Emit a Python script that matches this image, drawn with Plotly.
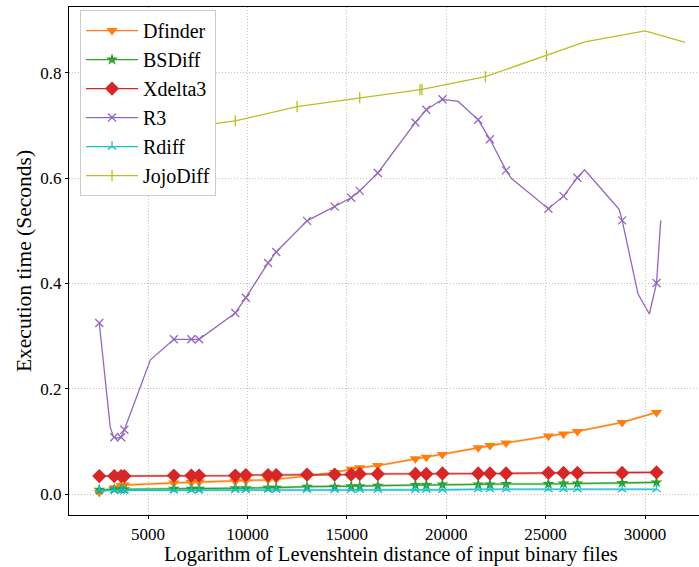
import plotly.graph_objects as go

# ---------------- data ----------------
x_pts = [2550, 3300, 3650, 3810, 6300, 7180, 7570, 9390, 9920, 11040, 11450,
         13000, 14390, 15220, 15650, 16560, 18450, 19000, 19810, 21610, 22200,
         23010, 25140, 25900, 26600, 28850, 30580]

dfinder = [0.003, 0.012, 0.016, 0.017, 0.021, 0.022, 0.023, 0.024, 0.025, 0.027, 0.028,
           0.034, 0.041, 0.047, 0.050, 0.054, 0.067, 0.070, 0.075, 0.088, 0.092,
           0.097, 0.110, 0.114, 0.119, 0.136, 0.155]

bsdiff = [0.008, 0.009, 0.009, 0.009, 0.010, 0.010, 0.010, 0.011, 0.011, 0.012, 0.012,
          0.014, 0.014, 0.015, 0.015, 0.016, 0.017, 0.017, 0.018, 0.018, 0.018,
          0.019, 0.019, 0.020, 0.020, 0.021, 0.022]

xdelta3 = [0.034, 0.034, 0.034, 0.034, 0.035, 0.035, 0.035, 0.035, 0.036, 0.036, 0.036,
           0.037, 0.037, 0.037, 0.038, 0.038, 0.038, 0.038, 0.039, 0.039, 0.039,
           0.039, 0.040, 0.040, 0.040, 0.040, 0.041]

rdiff = [0.007, 0.007, 0.007, 0.007, 0.007, 0.007, 0.007, 0.008, 0.008, 0.008, 0.008,
         0.008, 0.008, 0.008, 0.008, 0.008, 0.008, 0.008, 0.008, 0.009, 0.009,
         0.009, 0.009, 0.009, 0.009, 0.009, 0.009]

r3 = [0.325, 0.108, 0.108, 0.122, 0.294, 0.294, 0.294, 0.344, 0.373, 0.439, 0.460,
      0.519, 0.546, 0.563, 0.576, 0.610, 0.706, 0.730, 0.750, 0.711, 0.674,
      0.615, 0.542, 0.566, 0.601, 0.520, 0.401]

r3_curve_x = [2550, 3100, 3250, 3400, 3650, 3810, 5120, 6300, 7180, 7570, 9390, 9920,
              11040, 11450, 13000, 14390, 15220, 15650, 16560, 18450, 19000, 19810,
              20600, 21610, 22200, 23010, 23270, 25140, 25900, 26600, 26960, 28700,
              28850, 29650, 30100, 30220, 30580, 30790]
r3_curve_y = [0.325, 0.127, 0.110, 0.106, 0.108, 0.122, 0.255, 0.294, 0.294, 0.294, 0.344, 0.373,
              0.439, 0.460, 0.519, 0.546, 0.563, 0.576, 0.610, 0.706, 0.730, 0.750,
              0.746, 0.711, 0.674, 0.615, 0.600, 0.542, 0.566, 0.601, 0.616, 0.541,
              0.520, 0.380, 0.350, 0.342, 0.401, 0.520]

jojo_x = [9390, 12500, 15650, 18680, 18780, 21970, 25050]
jojo_y = [0.709, 0.736, 0.753, 0.768, 0.769, 0.793, 0.833]
jojo_curve_x = [7570, 9390, 12500, 15650, 18680, 18780, 21970, 25050, 26970, 30000, 32020]
jojo_curve_y = [0.700, 0.709, 0.736, 0.753, 0.768, 0.769, 0.793, 0.833, 0.859, 0.880, 0.858]

x_ticks = [5000, 10000, 15000, 20000, 25000, 30000]
y_ticks = [0.0, 0.2, 0.4, 0.6, 0.8]

x_title = "Logarithm of Levenshtein distance of input binary files"
y_title = "Execution time (Seconds)"

# ---------------- styles ----------------
FONT = "Liberation Serif"
C = {"Dfinder": "#ff7f0e", "BSDiff": "#2ca02c", "Xdelta3": "#d62728",
     "R3": "#9467bd", "Rdiff": "#17becf", "JojoDiff": "#bcbd22"}

fig = go.Figure()


def light_line(x, y, color):
    fig.add_trace(go.Scatter(x=x, y=y, mode="lines", opacity=0.4,
                             line=dict(color=color, width=2.4),
                             showlegend=False, hoverinfo="skip"))


def legend_dummy(name, color, marker, rank):
    fig.add_trace(go.Scatter(x=[None], y=[None], mode="lines+markers", name=name,
                             line=dict(color=color, width=1.3), marker=marker,
                             legendrank=rank))


# Dfinder
light_line(x_pts, dfinder, C["Dfinder"])
fig.add_trace(go.Scatter(x=x_pts, y=dfinder, mode="lines+markers", name="Dfinder",
                         line=dict(color=C["Dfinder"], width=1.2),
                         marker=dict(symbol="triangle-down", size=10, color=C["Dfinder"]),
                         legendrank=1))
# BSDiff
light_line(x_pts, bsdiff, C["BSDiff"])
fig.add_trace(go.Scatter(x=x_pts, y=bsdiff, mode="lines+markers", name="BSDiff",
                         line=dict(color=C["BSDiff"], width=1.2),
                         marker=dict(symbol="star", size=9, color=C["BSDiff"]),
                         legendrank=2))
# Xdelta3
light_line(x_pts, xdelta3, C["Xdelta3"])
fig.add_trace(go.Scatter(x=x_pts, y=xdelta3, mode="lines+markers", name="Xdelta3",
                         line=dict(color=C["Xdelta3"], width=1.2),
                         marker=dict(symbol="diamond", size=11, color=C["Xdelta3"]),
                         legendrank=3))
# R3
r3_marker = dict(symbol="x-thin", size=8, color=C["R3"],
                 line=dict(color=C["R3"], width=1.3))
fig.add_trace(go.Scatter(x=r3_curve_x, y=r3_curve_y, mode="lines",
                         line=dict(color=C["R3"], width=1.3),
                         showlegend=False, hoverinfo="skip"))
fig.add_trace(go.Scatter(x=x_pts, y=r3, mode="markers", marker=r3_marker,
                         showlegend=False))
legend_dummy("R3", C["R3"], r3_marker, 4)
# Rdiff
light_line(x_pts, rdiff, C["Rdiff"])
fig.add_trace(go.Scatter(x=x_pts, y=rdiff, mode="lines+markers", name="Rdiff",
                         line=dict(color=C["Rdiff"], width=1.2),
                         marker=dict(symbol="y-up", size=7, color=C["Rdiff"],
                                     line=dict(color=C["Rdiff"], width=1.3)),
                         legendrank=5))
# JojoDiff
jojo_marker = dict(symbol="line-ns", size=8, color=C["JojoDiff"],
                   line=dict(color=C["JojoDiff"], width=1.3))
fig.add_trace(go.Scatter(x=jojo_curve_x, y=jojo_curve_y, mode="lines",
                         line=dict(color=C["JojoDiff"], width=1.3),
                         showlegend=False, hoverinfo="skip"))
fig.add_trace(go.Scatter(x=jojo_x, y=jojo_y, mode="markers", marker=jojo_marker,
                         showlegend=False))
legend_dummy("JojoDiff", C["JojoDiff"], jojo_marker, 6)

axis_common = dict(
    showgrid=True, gridcolor="#c4c4c4", griddash="1px,2px", gridwidth=1,
    zeroline=False, showline=True, linecolor="black", linewidth=1.2,
    ticks="outside", ticklen=3, tickcolor="black", tickwidth=1,
    tickfont=dict(family=FONT, size=17, color="black"),
)

fig.update_layout(
    width=699, height=567,
    margin=dict(l=69, r=0, t=7, b=52, autoexpand=False),
    paper_bgcolor="white", plot_bgcolor="white",
    font=dict(family=FONT, color="black"),
    xaxis=dict(range=[1026, 32716], tickvals=x_ticks, tickformat="d", mirror=True,
               **axis_common),
    yaxis=dict(range=[-0.0399, 0.9254], tickvals=y_ticks, tickformat=".1f",
               title=dict(text=y_title, font=dict(family=FONT, size=21.5), standoff=2),
               **axis_common),
    legend=dict(x=0.0175, y=0.994, xanchor="left", yanchor="top",
                bgcolor="white", bordercolor="#cccccc", borderwidth=1,
                font=dict(family=FONT, size=20, color="black"),
                traceorder="normal", itemwidth=52),
    annotations=[dict(text=x_title, xref="paper", yref="paper", x=0.511, y=-0.1024,
                      xanchor="center", yanchor="bottom", showarrow=False,
                      borderpad=0, font=dict(family=FONT, size=20.5, color="black"))],
)

fig.write_html("out.html")
